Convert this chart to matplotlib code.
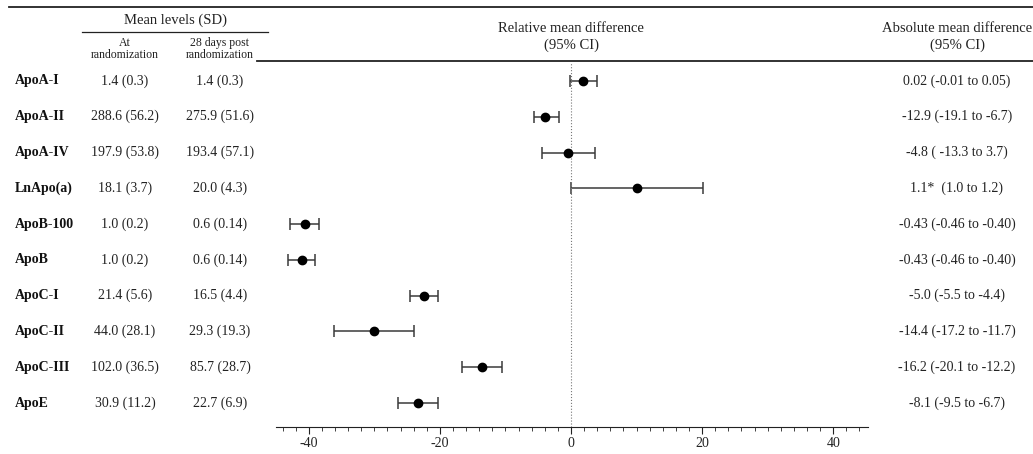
import numpy as np
import matplotlib.pyplot as plt
from matplotlib.transforms import blended_transform_factory

plt.rcParams['font.family'] = ['Liberation Serif', 'DejaVu Serif']
plt.rcParams['axes.unicode_minus'] = False

# table data
labels = ['ApoA-I', 'ApoA-II', 'ApoA-IV', 'LnApo(a)', 'ApoB-100', 'ApoB',
          'ApoC-I', 'ApoC-II', 'ApoC-III', 'ApoE']
at_rand = ['1.4 (0.3)', '288.6 (56.2)', '197.9 (53.8)', '18.1 (3.7)', '1.0 (0.2)',
           '1.0 (0.2)', '21.4 (5.6)', '44.0 (28.1)', '102.0 (36.5)', '30.9 (11.2)']
post_rand = ['1.4 (0.3)', '275.9 (51.6)', '193.4 (57.1)', '20.0 (4.3)', '0.6 (0.14)',
             '0.6 (0.14)', '16.5 (4.4)', '29.3 (19.3)', '85.7 (28.7)', '22.7 (6.9)']
abs_diff = ['0.02 (-0.01 to 0.05)', '-12.9 (-19.1 to -6.7)', '-4.8 ( -13.3 to 3.7)',
            '1.1*  (1.0 to 1.2)', '-0.43 (-0.46 to -0.40)', '-0.43 (-0.46 to -0.40)',
            '-5.0 (-5.5 to -4.4)', '-14.4 (-17.2 to -11.7)', '-16.2 (-20.1 to -12.2)',
            '-8.1 (-9.5 to -6.7)']

# relative mean difference (%) with 95% CI
rel_mean = [1.9, -3.9, -0.4, 10.1, -40.6, -41.1, -22.5, -30.1, -13.6, -23.4]
rel_lo = [-0.1, -5.6, -4.5, 0.0, -42.8, -43.2, -24.6, -36.1, -16.6, -26.4]
rel_hi = [4.0, -1.9, 3.7, 20.1, -38.4, -39.0, -20.3, -24.0, -10.6, -20.3]

W, H = 1033, 454
fig = plt.figure(figsize=(W / 100, H / 100), dpi=100)

def fx(px):
    return px / W

def fy(py):
    return 1 - py / H

ax = fig.add_axes([fx(276), fy(427), fx(868) - fx(276), fy(62) - fy(427)])

ypos = np.arange(len(labels))
mean = np.array(rel_mean)
err = [mean - np.array(rel_lo), np.array(rel_hi) - mean]
ax.errorbar(mean, ypos, xerr=err, fmt='o', color='black', ecolor='#3a3a3a',
            elinewidth=1.1, capsize=4, capthick=1.1, markersize=6)
ax.axvline(0, color='#777777', lw=0.8, ls=':')

ax.set_xlim(-45, 45.3)
ax.set_ylim(9.67, -0.53)
ax.set_xticks([-40, -20, 0, 20, 40])
ax.set_xticks(np.arange(-44, 45, 2), minor=True)
ax.set_yticks([])
for s in ['top', 'left', 'right']:
    ax.spines[s].set_visible(False)
ax.spines['bottom'].set_color('#222222')
ax.tick_params(axis='x', which='major', length=5, labelsize=10, colors='#222222', pad=2)
ax.tick_params(axis='x', which='minor', length=3, colors='#222222')

# row texts, x in figure fraction, y in data units
tr = blended_transform_factory(fig.transFigure, ax.transData)
for i in range(len(labels)):
    ax.text(fx(15), ypos[i], labels[i], transform=tr, ha='left', va='center',
            fontsize=10, fontweight='bold', color='#111111')
    ax.text(fx(125), ypos[i], at_rand[i], transform=tr, ha='center', va='center',
            fontsize=10, color='#222222')
    ax.text(fx(220), ypos[i], post_rand[i], transform=tr, ha='center', va='center',
            fontsize=10, color='#222222')
    ax.text(fx(957), ypos[i], abs_diff[i], transform=tr, ha='center', va='center',
            fontsize=10, color='#222222')

# header
fig.text(fx(175), fy(20), 'Mean levels (SD)', ha='center', va='center', fontsize=10.5, color='#222222')
fig.text(fx(125), fy(49), 'At\nrandomization', ha='center', va='center', fontsize=8.5,
         linespacing=1.05, color='#222222')
fig.text(fx(220), fy(49), '28 days post\nrandomization', ha='center', va='center', fontsize=8.5,
         linespacing=1.05, color='#222222')
fig.text(fx(571), fy(37), 'Relative mean difference\n(95% CI)', ha='center', va='center',
         fontsize=10.5, linespacing=1.3, color='#222222')
fig.text(fx(957), fy(37), 'Absolute mean difference\n(95% CI)', ha='center', va='center',
         fontsize=10.5, linespacing=1.3, color='#222222')

# table rules
fig.add_artist(plt.Line2D([fx(9), 1], [fy(7), fy(7)], color='#222222', lw=1.3))
fig.add_artist(plt.Line2D([fx(82), fx(268)], [fy(32), fy(32)], color='#222222', lw=0.9))
fig.add_artist(plt.Line2D([fx(257), 1], [fy(61), fy(61)], color='#222222', lw=1.3))

fig.savefig('out.png', dpi=100)
